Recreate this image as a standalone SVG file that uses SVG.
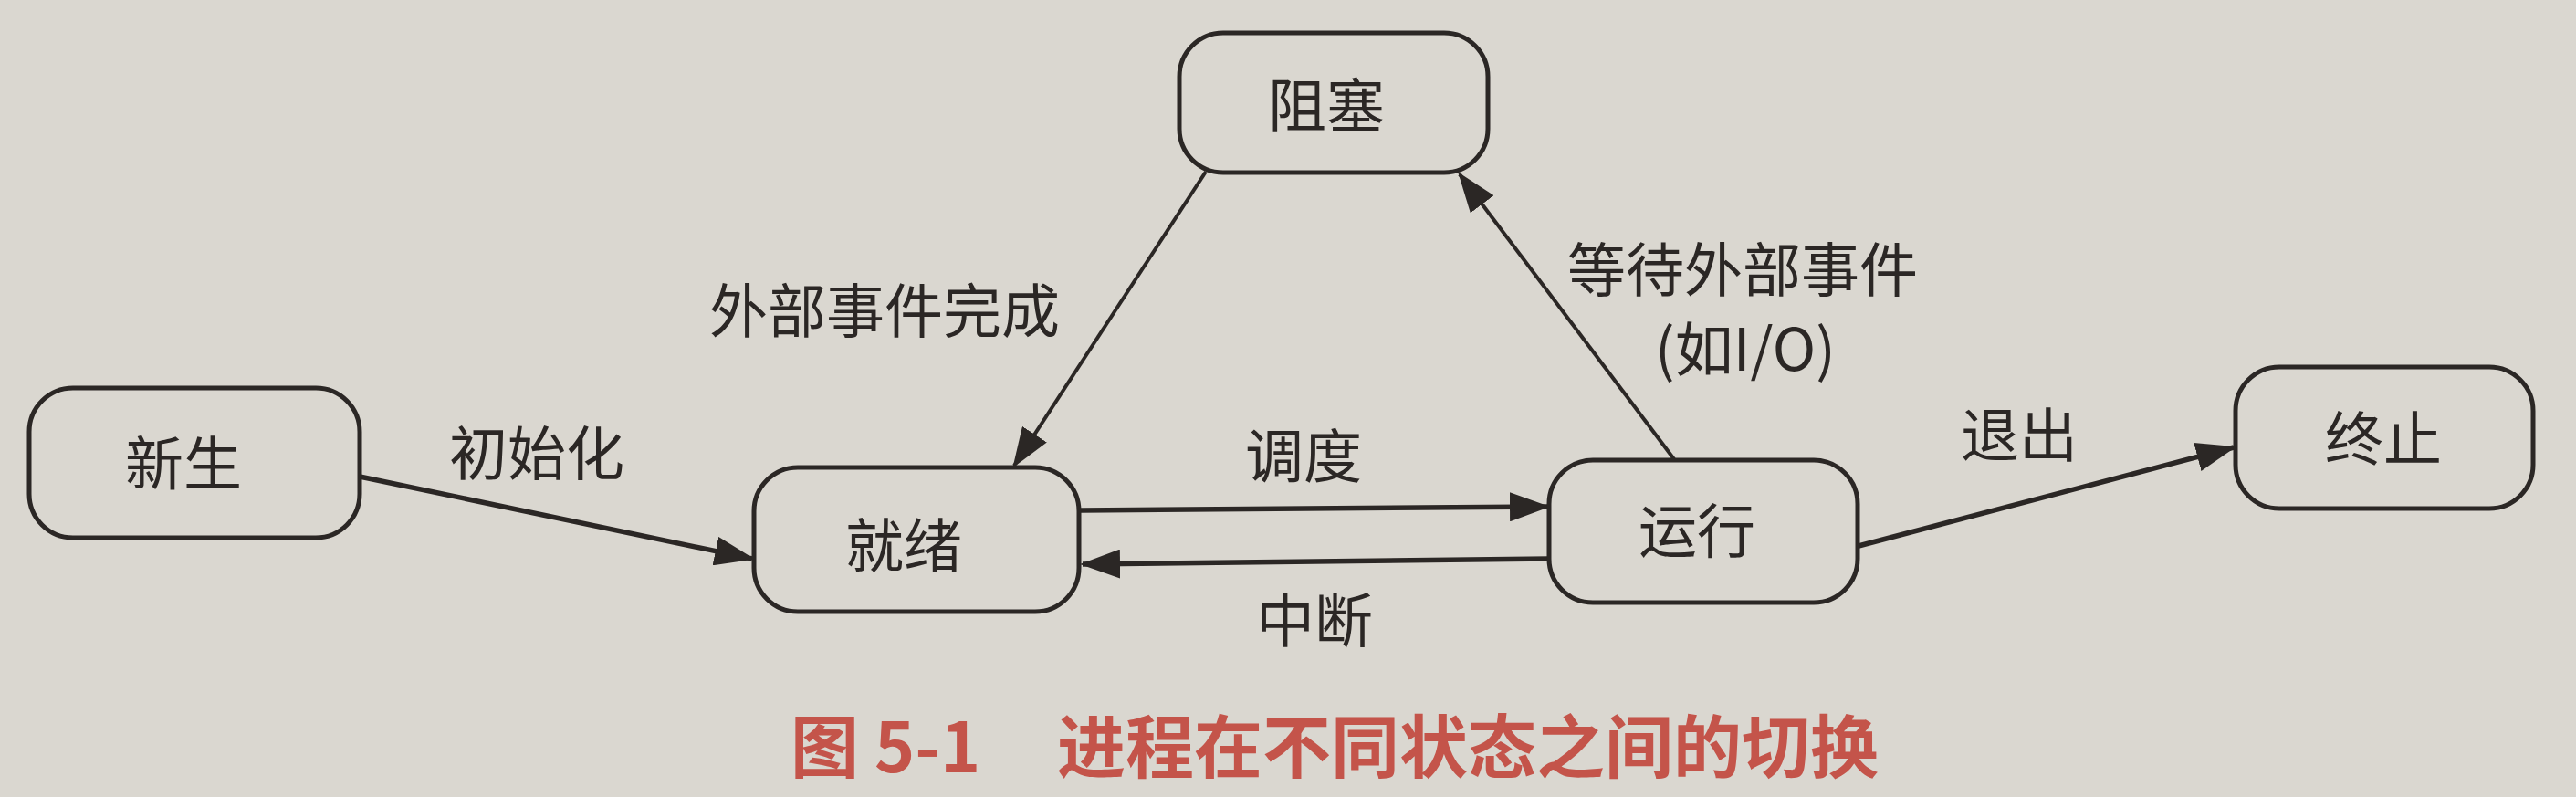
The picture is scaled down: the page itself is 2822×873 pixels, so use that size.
<svg xmlns="http://www.w3.org/2000/svg" width="2822" height="873" viewBox="0 0 2822 873">
  <style>
    .box { fill: none; stroke: #2b2725; stroke-width: 5; }
    .lbl { font-family: "Noto Sans CJK SC", "Noto Sans", "Liberation Sans", sans-serif; font-size: 64px; fill: #2b2725; text-anchor: middle; }
    .edge { stroke: #2b2725; stroke-width: 5.5; fill: none; marker-end: url(#arrow); }
    .thin { stroke-width: 4; }
    .cap { font-family: "Noto Sans CJK SC", "Noto Sans", "Liberation Sans", sans-serif; font-size: 75px; font-weight: 700; fill: #c4544a; }
  </style>
  <defs>
    <marker id="arrow" markerUnits="userSpaceOnUse" viewBox="0 0 44 32" markerWidth="44" markerHeight="32" refX="41" refY="16" orient="auto">
      <path d="M0,0 L44,16 L0,32 z" fill="#2b2725"/>
    </marker>
  </defs>
  <rect x="0" y="0" width="2822" height="873" fill="#dad7d0"/>

  <g id="connectors">
    <line class="edge" x1="394" y1="522" x2="824" y2="612"/>
    <line class="edge" x1="1184" y1="559" x2="1695" y2="555"/>
    <line class="edge" x1="1697" y1="612" x2="1186" y2="618"/>
    <line class="edge" x1="2036" y1="598" x2="2447" y2="490"/>
    <line class="edge thin" x1="1321" y1="188" x2="1111" y2="510"/>
    <line class="edge thin" x1="1834" y1="503" x2="1599" y2="191"/>
    <text class="lbl" x="588" y="520">初始化</text>
    <text class="lbl" x="1428" y="523">调度</text>
    <text class="lbl" x="1440" y="703">中断</text>
    <text class="lbl" x="2212" y="500">退出</text>
    <text class="lbl" x="969" y="364">外部事件完成</text>
    <text class="lbl" x="1909" y="319">等待外部事件</text>
    <text class="lbl" x="1912" y="406">(如I/O)</text>
  </g>

  <g id="node-new">
    <rect class="box" x="32" y="425" width="362" height="164" rx="48"/>
    <text class="lbl" x="201" y="531">新生</text>
  </g>
  <g id="node-ready">
    <rect class="box" x="826" y="512" width="356" height="158" rx="48"/>
    <text class="lbl" x="990" y="621">就绪</text>
  </g>
  <g id="node-running">
    <rect class="box" x="1697" y="504" width="338" height="156" rx="48"/>
    <text class="lbl" x="1859" y="605">运行</text>
  </g>
  <g id="node-terminated">
    <rect class="box" x="2449" y="402" width="326" height="155" rx="48"/>
    <text class="lbl" x="2611" y="504">终止</text>
  </g>
  <g id="node-blocked">
    <rect class="box" x="1292" y="36" width="338" height="153" rx="48"/>
    <text class="lbl" x="1453" y="139">阻塞</text>
  </g>

  <g id="caption">
    <text class="cap" x="866" y="846">图 5-1</text>
    <text class="cap" x="1158" y="846">进程在不同状态之间的切换</text>
  </g>
</svg>
